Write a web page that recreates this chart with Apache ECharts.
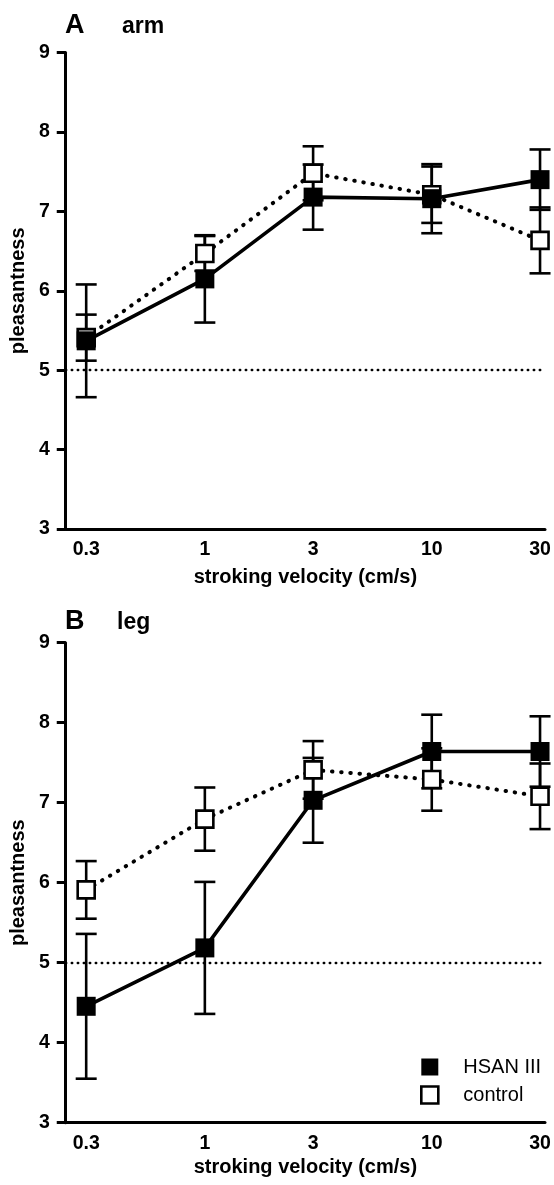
<!DOCTYPE html>
<html>
<head>
<meta charset="utf-8">
<script src="https://cdn.jsdelivr.net/npm/echarts@6/dist/echarts.min.js"></script>
<style>html,body{margin:0;padding:0;background:#fff}#c{width:554px;height:1185px}</style>
</head>
<body>
<div id="c"></div>
<script>
// ---- data ----
const velocities = [0.3, 1, 3, 10, 30];          // stroking velocity (cm/s)
const velocityTickLabels = [0.3, 1, 3, 10, 30];
const panelTitles = ['A', 'B'];
const panelSites = ['arm', 'leg'];
const seriesNames = ['HSAN III', 'control'];

const armHSAN = [5.37, 6.15, 7.18, 7.16, 7.40];
const armHSANErr = [0.71, 0.55, 0.41, 0.435, 0.38];
const armControl = [5.41, 6.47, 7.48, 7.21, 6.635];
const armControlErr = [0.29, 0.22, 0.34, 0.355, 0.415];

const legHSAN = [4.455, 5.185, 7.03, 7.64, 7.64];
const legHSANErr = [0.905, 0.825, 0.53, 0.46, 0.44];
const legControl = [5.91, 6.795, 7.41, 7.29, 7.08];
const legControlErr = [0.36, 0.395, 0.36, 0.39, 0.41];

const neutralLevel = 5;

// ---- chart ----
const FONT = 'Liberation Sans';
const chart = echarts.init(document.getElementById('c'), null, {renderer: 'canvas'});

function pairs(vals) { return velocities.map((v, i) => [v, vals[i]]); }
function errData(vals, errs) { return velocities.map((v, i) => [v, vals[i] - errs[i], vals[i] + errs[i]]); }

function errorSeries(idx, vals, errs, name) {
  return {
    type: 'custom', name: name, xAxisIndex: idx, yAxisIndex: idx, z: 1, silent: true,
    encode: {x: 0, y: [1, 2]},
    data: errData(vals, errs),
    renderItem: function (params, api) {
      const x = api.value(0), lo = api.value(1), hi = api.value(2);
      const a = api.coord([x, hi]), b = api.coord([x, lo]);
      const w = 10.5, st = {stroke: '#000', lineWidth: 2.6};
      return {type: 'group', children: [
        {type: 'line', shape: {x1: a[0], y1: a[1], x2: b[0], y2: b[1]}, style: st},
        {type: 'line', shape: {x1: a[0] - w, y1: a[1], x2: a[0] + w, y2: a[1]}, style: st},
        {type: 'line', shape: {x1: b[0] - w, y1: b[1], x2: b[0] + w, y2: b[1]}, style: st}
      ]};
    }
  };
}

function panelSeries(idx, hsan, hsanErr, ctrl, ctrlErr) {
  return [
    errorSeries(idx, ctrl, ctrlErr, seriesNames[1]),
    errorSeries(idx, hsan, hsanErr, seriesNames[0]),
    {
      type: 'line', name: seriesNames[1], xAxisIndex: idx, yAxisIndex: idx, z: 2,
      data: pairs(ctrl), symbol: 'rect', symbolSize: 17,
      lineStyle: {color: '#000', width: 4, type: [0.5, 8.7], cap: 'round'},
      itemStyle: {color: '#fff', borderColor: '#000', borderWidth: 2.6},
      emphasis: {disabled: true},
      markLine: {
        silent: true, symbol: 'none', label: {show: false}, animation: false,
        lineStyle: {color: '#000', width: 2.4, type: [0.5, 5.5], cap: 'round'},
        data: [{yAxis: neutralLevel}]
      }
    },
    {
      type: 'line', name: seriesNames[0], xAxisIndex: idx, yAxisIndex: idx, z: 3,
      data: pairs(hsan), symbol: 'rect', symbolSize: 19,
      lineStyle: {color: '#000', width: 3.6, type: 'solid'},
      itemStyle: {color: '#000', borderWidth: 0},
      emphasis: {disabled: true}
    }
  ];
}

const axisLineStyle = {color: '#000', width: 3};
function xAxis(idx) {
  return {
    gridIndex: idx, type: 'log', logBase: 10, min: 0.2438, max: 31.55,
    name: 'stroking velocity (cm/s)', nameLocation: 'middle', nameGap: idx === 0 ? 38 : 35,
    nameTextStyle: {fontFamily: FONT, fontWeight: 'bold', fontSize: 20, color: '#000'},
    axisLine: {show: true, lineStyle: axisLineStyle},
    axisTick: {show: false},
    splitLine: {show: false}, minorTick: {show: false}, minorSplitLine: {show: false},
    axisLabel: {
      customValues: velocityTickLabels, margin: 11,
      fontFamily: FONT, fontWeight: 'bold', fontSize: 19.5, color: '#000',
      formatter: v => String(Math.round(v * 10) / 10)
    }
  };
}
function yAxis(idx) {
  return {
    gridIndex: idx, type: 'value', min: 3, max: 9, interval: 1,
    name: 'pleasantness', nameLocation: 'middle', nameGap: 37,
    nameTextStyle: {fontFamily: FONT, fontWeight: 'bold', fontSize: 20, color: '#000'},
    axisLine: {show: true, lineStyle: axisLineStyle},
    axisTick: {show: true, length: 9, lineStyle: {color: '#000', width: 3}},
    splitLine: {show: false},
    axisLabel: {margin: 16, fontFamily: FONT, fontWeight: 'bold', fontSize: 19.5, color: '#000'}
  };
}

const titleStyle = (size) => ({fontFamily: FONT, fontWeight: 'bold', fontSize: size, color: '#000'});

const option = {
  animation: false,
  backgroundColor: '#fff',
  title: [
    {text: panelTitles[0], left: 65, top: 12, padding: 0, textStyle: titleStyle(27)},
    {text: panelSites[0], left: 122, top: 15, padding: 0, textStyle: titleStyle(23)},
    {text: panelTitles[1], left: 65, top: 608, padding: 0, textStyle: titleStyle(27)},
    {text: panelSites[1], left: 117, top: 611, padding: 0, textStyle: titleStyle(23)}
  ],
  grid: [
    {left: 63.5, right: 9, top: 52.6, bottom: 656, containLabel: false},
    {left: 63.5, right: 9, top: 642.7, bottom: 62.3, containLabel: false}
  ],
  xAxis: [xAxis(0), xAxis(1)],
  yAxis: [yAxis(0), yAxis(1)],
  legend: {
    left: 415, top: 1052, orient: 'vertical', itemWidth: 17, itemHeight: 17, itemGap: 8,
    selectedMode: false,
    textStyle: {fontFamily: FONT, fontSize: 20, color: '#000', padding: [0, 0, 0, 20], lineHeight: 18},
    data: [
      {name: seriesNames[0], icon: 'rect', itemStyle: {color: '#000', borderWidth: 0}},
      {name: seriesNames[1], icon: 'rect', itemStyle: {color: '#fff', borderColor: '#000', borderWidth: 2.6}}
    ]
  },
  series: [
    ...panelSeries(0, armHSAN, armHSANErr, armControl, armControlErr),
    ...panelSeries(1, legHSAN, legHSANErr, legControl, legControlErr)
  ]
};
chart.setOption(option);
</script>
</body>
</html>
